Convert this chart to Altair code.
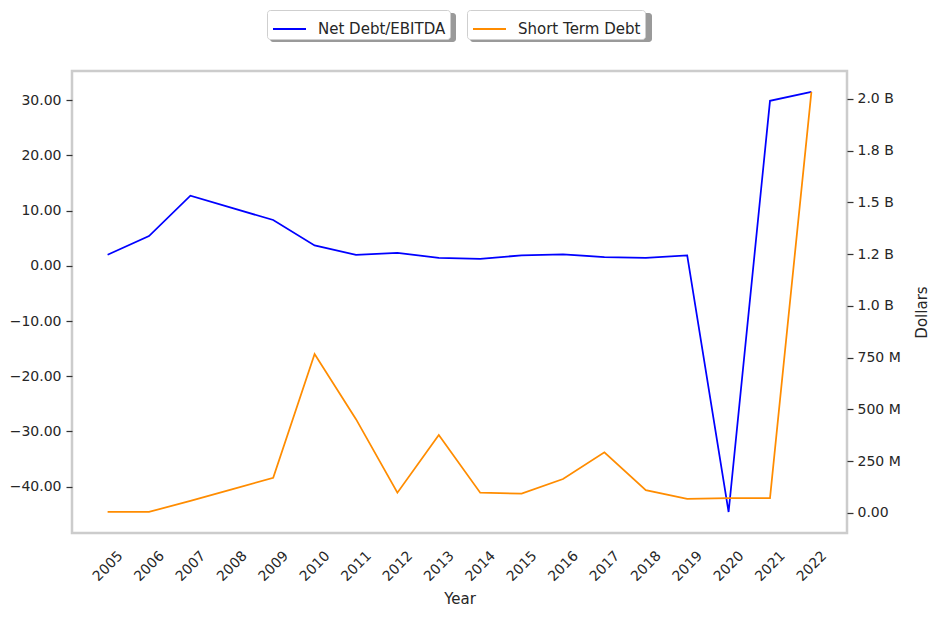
import altair as alt
import pandas as pd

years = [str(y) for y in range(2005, 2023)]
net_debt_ebitda = [2.0, 5.4, 12.7, 10.5, 8.3, 3.7, 2.0, 2.35, 1.45, 1.27, 1.9, 2.1,
                   1.6, 1.45, 1.9, -44.6, 29.9, 31.5]
short_term_debt = [5e6, 5e6, 58e6, 114e6, 170e6, 768e6, 453e6, 98e6, 377e6, 98e6,
                   93e6, 164e6, 293e6, 110e6, 68e6, 72e6, 72e6, 2034e6]
left_ticks = [-40, -30, -20, -10, 0, 10, 20, 30]
right_ticks = [0, 250e6, 500e6, 750e6, 1000e6, 1250e6, 1500e6, 1750e6, 2000e6]
series_names = ["Net Debt/EBITDA", "Short Term Debt"]
series_colors = ["#0000ff", "#ff8c00"]

df1 = pd.DataFrame({"Year": years, "value": net_debt_ebitda, "series": series_names[0]})
df2 = pd.DataFrame({"Year": years, "value": short_term_debt, "series": series_names[1]})

TXT = "#262626"
FONT = "DejaVu Sans"

# legend box placement (pixels, relative to plot origin) and drop-shadow styling
LEG_X = [195, 395]
LEG_Y = -61
LEG_W = [186, 182]
LEG_H = 29
SHADOW_OFF = 3

x_enc = alt.X("Year:O", scale=alt.Scale(type="point", padding=0.86),
              axis=alt.Axis(title="Year", labelAngle=-45, labelAlign="center",
                            labelBaseline="middle", ticks=False, labelPadding=33,
                            titlePadding=8, domain=False, grid=False))


def legend(i):
    return alt.Legend(title="\u00a0", titleOrient="right", titleFontSize=10, titlePadding=3,
                      orient="none", legendX=LEG_X[i], legendY=LEG_Y,
                      direction="horizontal", symbolType="stroke", symbolSize=1089,
                      symbolStrokeWidth=2, symbolOffset=3.5,
                      labelFontSize=15, labelColor=TXT, labelFont=FONT,
                      labelOffset=11, padding=1.5, cornerRadius=3,
                      fillColor="white", strokeColor="#cfcfcf", zindex=1)


def color(i):
    return alt.Color("series:N",
                     scale=alt.Scale(domain=[series_names[i]], range=[series_colors[i]]),
                     legend=legend(i))


y1 = alt.Y("value:Q", scale=alt.Scale(domain=[-48.4, 35.3], nice=False, zero=False),
           axis=alt.Axis(title=None, values=left_ticks, format=".2f", grid=False,
                         domain=False, tickSize=6, tickColor="#333333", tickWidth=1.25,
                         labelPadding=5))

right_label = ("datum.value == 0 ? '0.00' : datum.value < 1e9 ? format(datum.value/1e6, '.0f') + ' M' : "
               "datum.value == 1250000000 ? '1.2 B' : datum.value == 1750000000 ? '1.8 B' : "
               "format(datum.value/1e9, '.1f') + ' B'")

y2 = alt.Y("value:Q", scale=alt.Scale(domain=[-97e6, 2135e6], nice=False, zero=False),
           axis=alt.Axis(title="Dollars", orient="right", values=right_ticks,
                         labelExpr=right_label, grid=False, domain=False, tickSize=6,
                         tickColor="#333333", tickWidth=1.25, labelPadding=4,
                         titleAngle=270, titleX=74, titleY=241, titleAlign="center",
                         titleBaseline="middle"))

# decorative drop shadows behind the two legend boxes
shadows = [
    alt.Chart(pd.DataFrame({"k": [i]})).mark_rect(color="#9a9a9a", cornerRadius=3).encode(
        x=alt.value(LEG_X[i] + SHADOW_OFF), x2=alt.value(LEG_X[i] + SHADOW_OFF + LEG_W[i]),
        y=alt.value(LEG_Y + SHADOW_OFF), y2=alt.value(LEG_Y + SHADOW_OFF + LEG_H))
    for i in range(2)
]

line1 = alt.Chart(df1).mark_line(strokeWidth=1.75).encode(x=x_enc, y=y1, color=color(0))
line2 = alt.Chart(df2).mark_line(strokeWidth=1.75).encode(x=x_enc, y=y2, color=color(1))

chart = alt.layer(shadows[0], shadows[1], line1, line2).resolve_scale(
    y="independent", color="independent"
).properties(
    width=775, height=462,
    background="white",
    autosize=alt.AutoSizeParams(type="none"),
    padding={"left": 64, "top": 63, "right": 85, "bottom": 80},
).configure_view(
    stroke="#cccccc", strokeWidth=2.5, fill="white"
).configure_axis(
    labelFont=FONT, labelFontSize=14, labelColor=TXT,
    titleFont=FONT, titleFontSize=15, titleColor=TXT, titleFontWeight="normal",
)

chart.save("out.html", embed_options={"renderer": "svg", "actions": False})
